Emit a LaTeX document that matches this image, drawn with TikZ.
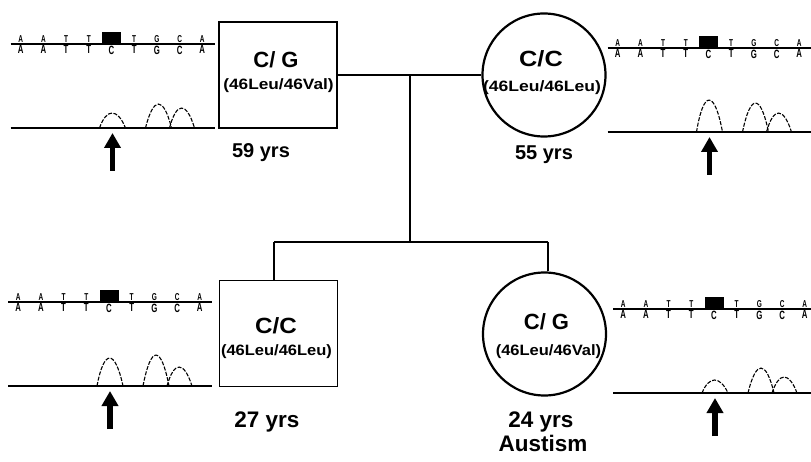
\documentclass[tikz,border=0pt]{standalone}
\usepackage{fontspec}
\setmainfont{Liberation Sans}
\usetikzlibrary{arrows.meta}
\tikzset{
  sqbox/.style={draw, line width=1.3pt, minimum width=118pt, minimum height=106pt, inner sep=0pt},
  circbox/.style={draw, circle, line width=2.2pt, minimum size=123pt, inner sep=0pt},
  gtype/.style={font=\fontsize{22}{24}\selectfont\bfseries, inner sep=0pt, anchor=base},
  allele/.style={font=\fontsize{15}{16}\selectfont\bfseries, inner sep=0pt, anchor=base},
  agesmall/.style={font=\fontsize{20}{22}\selectfont\bfseries, inner sep=0pt, anchor=base},
  agebig/.style={font=\fontsize{22.5}{24}\selectfont\bfseries, inner sep=0pt, anchor=base},
  link/.style={line width=1.1pt},
  seqline/.style={line width=1.3pt},
  traceline/.style={line width=1.3pt},
  peak/.style={line width=1.1pt, dash pattern=on 4pt off 1.5pt},
  basebelow/.style={font=\fontsize{12}{12}\selectfont\bfseries, inner sep=0pt, anchor=north},
  baseabove/.style={font=\fontsize{10}{10}\selectfont\bfseries, inner sep=0pt, anchor=south},
  marker/.style={line width=5.5pt, -{Triangle[width=16pt,length=15pt]}}
}
\newcommand{\chromat}[5]{%
  \begin{scope}[shift={(#1,#2)}]
    \draw[seqline] (-101,0) -- (103,0);
    \fill (-9.5,-12) rectangle (9.5,0);
    \foreach \b [count=\i from 0] in {A,A,T,T,C,T,G,C,A} {
      \node[basebelow] at ({22.7*(\i-4)},1.5) {\scalebox{0.65}[1]{\b}};
      \ifnum\i=4\relax\else\node[baseabove] at ({22.7*(\i-4)},-1.5) {\scalebox{0.65}[1]{\b}};\fi
    }
    \draw[traceline] (-101,84) -- (103,84);
    \draw[peak] (-12,84) .. controls (-5,{84-1.33*#3}) and (6,{84-1.33*#3}) .. (14,84);
    \draw[peak] (34,84) .. controls (42,{84-1.33*#4}) and (52,{84-1.33*#4}) .. (60,84);
    \draw[peak] (58,84) .. controls (65,{84-1.33*#5}) and (75,{84-1.33*#5}) .. (83,84);
    \draw[marker] (1,127) -- (1,89);
  \end{scope}}
\begin{document}
\begin{tikzpicture}[x=1pt,y=-1pt]
  \useasboundingbox[fill=white] (0,0) rectangle (811,462);

  % pedigree shapes
  \node[sqbox] (father) at (278,75) {};
  \node[circbox] (mother) at (544,75) {};
  \node[sqbox] (son) at (278.5,333.5) {};
  \node[circbox] (daughter) at (544.5,334) {};

  % connectors
  \coordinate (mate) at (410,75);
  \coordinate (sib) at (410,242);
  \coordinate (sibl) at (274,242);
  \coordinate (sibr) at (548,242);
  \draw[link] (father) -- (mother);
  \draw[link] (mate) -- (sib);
  \draw[link] (sibl) -- (sibr);
  \draw[link] (sibl) -- (sibl |- son.north);
  \draw[link] (sibr) -- (sibr |- daughter.north);

  % genotype texts
  \node[gtype] (fatherG) at (276,68) {C/ G};
  \node[allele] (fatherA) at (278.5,90) {\scalebox{1.15}[1]{(46Leu/46Val)}};
  \node[gtype] (motherG) at (541,67) {\scalebox{1.15}[1]{C/C}};
  \node[allele] (motherA) at (542,92) {\scalebox{1.17}[1]{(46Leu/46Leu)}};
  \node[gtype] (sonG) at (276,333) {\scalebox{1.1}[1]{C/C}};
  \node[allele] (sonA) at (276.5,355) {\scalebox{1.1}[1]{(46Leu/46Leu)}};
  \node[gtype] (daughterG) at (546.5,330) {C/ G};
  \node[allele] (daughterA) at (548.5,355) {\scalebox{1.1}[1]{(46Leu/46Val)}};

  % ages
  \node[agesmall] (fatherAge) at (261,158) {59 yrs};
  \node[agesmall] (motherAge) at (544,160) {55 yrs};
  \node[agebig] (sonAge) at (267,427) {27 yrs};
  \node[agebig] (daughterAge) at (541,427) {24 yrs};
  \node[agebig] (daughterDx) at (543,451) {Austism};

  % chromatograms
  \chromat{111.5}{44}{15}{24}{20}
  \chromat{708.5}{48}{32}{29}{19}
  \chromat{109}{302}{28}{31}{19}
  \chromat{714}{309}{13}{25}{16}
\end{tikzpicture}
\end{document}
